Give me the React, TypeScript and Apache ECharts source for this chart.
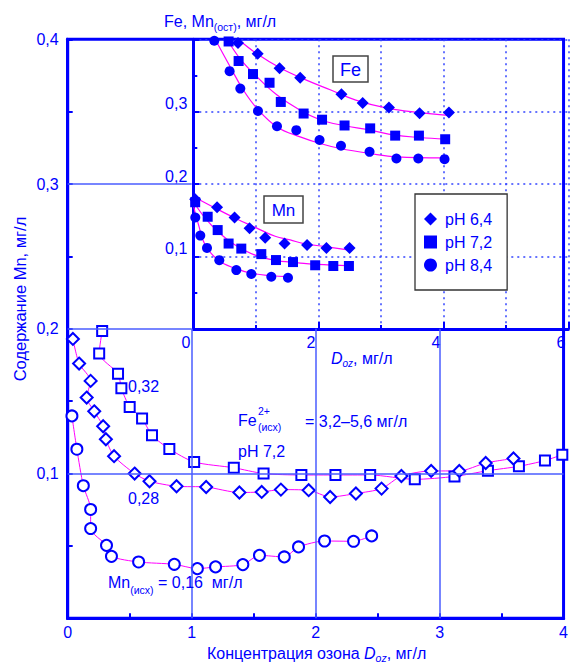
import React, { useEffect, useRef } from 'react';
import * as echarts from 'echarts';

const BLUE = '#0000ff';
const GRIDBLUE = '#4a5cff';
const MAGENTA = '#ff00ff';
const FONT = '"Liberation Sans", Arial, Helvetica, sans-serif';

// ---------- main chart: Mn content vs ozone dose (mg/l) ----------
// Fe(исх) series with initial Mn 0,32 (open squares)
const mainSquares032: number[][] = [
  [0.278, 0.1985], [0.254, 0.183], [0.406, 0.169], [0.433, 0.159], [0.5, 0.146],
  [0.6, 0.138], [0.68, 0.1265], [0.82, 0.117], [1.02, 0.108], [1.34, 0.104],
  [1.58, 0.1], [1.885, 0.099], [2.16, 0.099], [2.44, 0.099], [2.8, 0.096],
  [3.12, 0.098], [3.39, 0.102], [3.64, 0.105], [3.85, 0.109], [3.99, 0.113],
];
// initial Mn 0,28 (open diamonds)
const mainDiamonds028: number[][] = [
  [0.042, 0.193], [0.092, 0.176], [0.185, 0.164], [0.153, 0.1525], [0.214, 0.143],
  [0.286, 0.1327], [0.308, 0.1237], [0.374, 0.112], [0.54, 0.1], [0.66, 0.0947],
  [0.878, 0.0912], [1.117, 0.0907], [1.385, 0.0869], [1.565, 0.0873], [1.72, 0.0889],
  [1.944, 0.0885], [2.117, 0.0838], [2.325, 0.0862], [2.532, 0.0896], [2.692, 0.0983],
  [2.932, 0.1018], [3.159, 0.1018], [3.372, 0.1073], [3.596, 0.1104],
];
// initial Mn 0,16 (open circles)
const mainCircles016: number[][] = [
  [0.034, 0.1398], [0.074, 0.1168], [0.126, 0.0916], [0.185, 0.0752], [0.185, 0.062],
  [0.313, 0.0504], [0.353, 0.0428], [0.572, 0.0389], [0.86, 0.0373], [1.046, 0.0343],
  [1.193, 0.0355], [1.413, 0.0371], [1.547, 0.0435], [1.747, 0.0424], [1.862, 0.0493],
  [2.072, 0.0534], [2.306, 0.0532], [2.452, 0.0569],
];
const mainXTicks = [0, 1, 2, 3, 4];
const mainYTicks = [0.1, 0.2, 0.3, 0.4];
// solid grid lines of the main chart (outside the inset)
const mainHLines = [[0.1, 0, 4], [0.2, 0, 1], [0.3, 0, 1]];
const mainVLines = [[1, 0, 0.2], [2, 0, 0.2], [3, 0, 0.2]];

// ---------- inset: Fe, Mn(ост) vs D_oz ----------
const feMarkers64: number[][] = [
  [0.715, 0.395], [1.03, 0.38], [1.38, 0.36], [1.71, 0.347], [2.37, 0.324],
  [2.71, 0.312], [3.13, 0.306], [3.62, 0.298], [4.09, 0.299],
];
const feMarkers72: number[][] = [
  [0.565, 0.397], [0.725, 0.37], [0.955, 0.352], [1.22, 0.34], [1.4, 0.3135],
  [1.765, 0.2975], [2.06, 0.289], [2.42, 0.281], [2.83, 0.277], [3.23, 0.267],
  [3.61, 0.267], [4.03, 0.262],
];
const feMarkers84: number[][] = [
  [0.336, 0.398], [0.581, 0.356], [0.752, 0.332], [1.035, 0.301], [1.339, 0.28],
  [1.648, 0.2745], [2.02, 0.261], [2.363, 0.253], [2.82, 0.2446], [3.25, 0.2354],
  [3.6, 0.2354], [4.02, 0.2345],
];
const mnMarkers64: number[][] = [
  [0.03, 0.179], [0.38, 0.168], [0.66, 0.154], [0.9, 0.139], [1.15, 0.126],
  [1.46, 0.118], [1.82, 0.116], [2.13, 0.112], [2.5, 0.112],
];
const mnMarkers72: number[][] = [
  [0.03, 0.175], [0.23, 0.155], [0.39, 0.1366], [0.565, 0.118], [0.768, 0.111],
  [1.088, 0.1034], [1.323, 0.0952], [1.595, 0.0924], [1.95, 0.088], [2.24, 0.087],
  [2.49, 0.087],
];
const mnMarkers84: number[][] = [
  [0.032, 0.154], [0.112, 0.129], [0.219, 0.112], [0.416, 0.095], [0.688, 0.0814],
  [0.928, 0.0759], [1.248, 0.0722], [1.515, 0.0708],
];
// fitted curves
const feCurve64: number[][] = [
  [0.72, 0.4], [1.0, 0.381], [1.4, 0.36], [1.8, 0.344], [2.2, 0.33], [2.6, 0.316],
  [3.1, 0.305], [3.6, 0.299], [4.08, 0.295],
];
const feCurve72: number[][] = [
  [0.54, 0.4], [0.75, 0.373], [1.02, 0.348], [1.34, 0.323], [1.71, 0.302],
  [2.03, 0.289], [2.4, 0.281], [2.83, 0.2745], [3.23, 0.2676], [3.63, 0.2644], [4.03, 0.2621],
];
const feCurve84: number[][] = [
  [0.35, 0.4], [0.59, 0.362], [0.8, 0.33], [1.02, 0.3044], [1.34, 0.279],
  [1.71, 0.2652], [2.03, 0.2561], [2.35, 0.2492], [2.83, 0.2423], [3.26, 0.2377], [4.0, 0.2363],
];
const mnCurve64: number[][] = [
  [0.0, 0.183], [0.35, 0.167], [0.67, 0.153], [1.0, 0.14], [1.31, 0.128],
  [1.55, 0.123], [1.77, 0.118], [2.09, 0.114], [2.5, 0.109],
];
const mnCurve72: number[][] = [
  [0.0, 0.176], [0.19, 0.153], [0.4, 0.134], [0.67, 0.116], [0.99, 0.102],
  [1.36, 0.094], [1.55, 0.0925], [1.77, 0.0906], [1.98, 0.0892], [2.5, 0.0873],
];
const mnCurve84: number[][] = [
  [0.0, 0.171], [0.085, 0.1434], [0.19, 0.116], [0.4, 0.095], [0.67, 0.0837],
  [0.94, 0.0768], [1.26, 0.0735], [1.5, 0.0722],
];
const legendNames = ['pH 6,4', 'pH 7,2', 'pH 8,4'];
const legendIcons = ['diamond', 'rect', 'circle'];

const fmtComma = (v: number) => (Math.round(v * 10) / 10).toFixed(1).replace('.', ',');

function txt(x: number, y: number, text: string, extra: any = {}, rot = 0) {
  return {
    type: 'text',
    x,
    y,
    rotation: rot,
    silent: true,
    z: 10,
    style: {
      text,
      fill: BLUE,
      fontSize: 16,
      fontFamily: FONT,
      align: 'left',
      verticalAlign: 'middle',
      textAlign: 'left',
      textVerticalAlign: 'middle',
      ...extra,
    },
  };
}

const subRich = (pad: number, sub = 10.5) => ({
  a: { fontSize: 16, fontFamily: FONT, fill: BLUE, color: BLUE, verticalAlign: 'bottom', padding: [0, 0, pad, 0] },
  i: { fontSize: 16, fontFamily: FONT, fontStyle: 'italic', fill: BLUE, color: BLUE, verticalAlign: 'bottom', padding: [0, 0, pad, 0] },
  s: { fontSize: sub, fontFamily: FONT, fill: BLUE, color: BLUE, verticalAlign: 'bottom' },
  si: { fontSize: sub, fontFamily: FONT, fontStyle: 'italic', fill: BLUE, color: BLUE, verticalAlign: 'bottom' },
});

function buildOption(): any {
  const tickStyle = { color: BLUE, width: 2 };
  const dotted = { color: '#3344ff', width: 1.5, type: [2, 4] };

  const mainLine = (data: number[][], symbol: string, size: number | number[]) => ({
    type: 'line',
    xAxisIndex: 0,
    yAxisIndex: 0,
    data,
    smooth: 0.25,
    symbol,
    symbolSize: size,
    showSymbol: true,
    lineStyle: { color: MAGENTA, width: 1 },
    itemStyle: { color: BLUE, borderColor: BLUE, borderWidth: 1.2 },
    z: 3,
    silent: true,
  });
  const curve = (data: number[][]) => ({
    type: 'line',
    xAxisIndex: 1,
    yAxisIndex: 1,
    data,
    smooth: 0.4,
    symbol: 'none',
    showSymbol: false,
    lineStyle: { color: MAGENTA, width: 1.2 },
    z: 3,
    silent: true,
  });
  const marks = (name: string, data: number[][], symbol: string, size: number | number[]) => ({
    type: 'scatter',
    name,
    xAxisIndex: 1,
    yAxisIndex: 1,
    data,
    symbol,
    symbolSize: size,
    itemStyle: { color: BLUE, opacity: 1 },
    z: 4,
    silent: true,
  });

  return {
    animation: false,
    backgroundColor: '#fff',
    textStyle: { fontFamily: FONT },
    grid: [
      { left: 67.7, top: 39.3, width: 500.6, height: 579, show: true, borderColor: BLUE, borderWidth: 3, backgroundColor: 'transparent' },
      { left: 193.3, top: 39.3, width: 375, height: 289.7, show: false },
    ],
    xAxis: [
      {
        gridIndex: 0, type: 'value', min: 0, max: 4, interval: 1,
        axisLine: { show: true, onZero: false, lineStyle: { color: BLUE, width: 3 } },
        axisTick: { show: true, inside: true, length: 5, lineStyle: tickStyle },
        minorTick: { show: true, splitNumber: 2, length: 5, lineStyle: tickStyle },
        axisLabel: { color: BLUE, fontSize: 16, margin: 6, fontFamily: FONT,
          formatter: (v: number) => (mainXTicks.includes(v) ? String(v) : '') },
        splitLine: { show: false },
      },
      {
        gridIndex: 1, type: 'value', min: 0, max: 6, interval: 2,
        axisLine: { show: true, onZero: false, lineStyle: { color: BLUE, width: 3 } },
        axisTick: { show: true, inside: true, length: 7, lineStyle: tickStyle },
        minorTick: { show: true, splitNumber: 2, length: 4, lineStyle: tickStyle },
        axisLabel: { color: BLUE, fontSize: 16, margin: 5, align: 'right', padding: [0, 3, 0, 0], fontFamily: FONT },
        splitLine: { show: true, lineStyle: dotted },
        minorSplitLine: { show: true, lineStyle: dotted },
      },
    ],
    yAxis: [
      {
        gridIndex: 0, type: 'value', min: 0, max: 0.4, interval: 0.1,
        axisLine: { show: true, onZero: false, lineStyle: { color: BLUE, width: 3 } },
        axisTick: { show: true, inside: true, length: 5, lineStyle: tickStyle },
        minorTick: { show: true, splitNumber: 2, length: 5, lineStyle: tickStyle },
        axisLabel: { color: BLUE, fontSize: 16, margin: 9, fontFamily: FONT,
          formatter: (v: number) => (mainYTicks.some((t) => Math.abs(t - v) < 1e-6) ? fmtComma(v) : '') },
        splitLine: { show: false },
      },
      {
        gridIndex: 1, type: 'value', min: 0, max: 0.4, interval: 0.1,
        axisLine: { show: true, onZero: false, lineStyle: { color: BLUE, width: 3 } },
        axisTick: { show: true, inside: true, length: 6, lineStyle: tickStyle },
        minorTick: { show: true, splitNumber: 2, length: 4, lineStyle: tickStyle },
        axisLabel: { color: BLUE, fontSize: 16, margin: 6, verticalAlign: 'bottom', fontFamily: FONT,
          formatter: (v: number) => (v > 0.05 && v < 0.35 ? fmtComma(v) : '') },
        splitLine: { show: true, lineStyle: dotted },
      },
    ],
    legend: {
      show: true,
      orient: 'vertical',
      left: 415,
      top: 194,
      data: legendNames.map((n, i) => ({ name: n, icon: legendIcons[i] })),
      backgroundColor: '#fff',
      borderColor: '#333',
      borderWidth: 1.3,
      padding: [17, 15, 17, 9],
      itemGap: 7,
      itemWidth: 13,
      itemHeight: 13,
      selectedMode: false,
      textStyle: { color: BLUE, fontSize: 16, fontFamily: FONT, padding: [0, 0, 0, 3] },
    },
    series: [
      {
        type: 'line', xAxisIndex: 0, yAxisIndex: 0, data: [], z: 1, silent: true,
        markLine: {
          silent: true, symbol: 'none', label: { show: false },
          lineStyle: { color: GRIDBLUE, width: 1.5, type: 'solid' },
          data: [
            ...mainHLines.map(([y, x0, x1]) => [{ coord: [x0, y] }, { coord: [x1, y] }]),
            ...mainVLines.map(([x, y0, y1]) => [{ coord: [x, y0] }, { coord: [x, y1] }]),
          ],
        },
      },
      mainLine(mainSquares032, 'emptyRect', 10),
      mainLine(mainDiamonds028, 'emptyDiamond', 12),
      mainLine(mainCircles016, 'emptyCircle', 11),
      curve(feCurve64), curve(feCurve72), curve(feCurve84),
      curve(mnCurve64), curve(mnCurve72), curve(mnCurve84),
      marks('pH 6,4', feMarkers64, 'diamond', 12),
      marks('pH 7,2', feMarkers72, 'rect', 10),
      marks('pH 8,4', feMarkers84, 'circle', 10),
      marks('pH 6,4', mnMarkers64, 'diamond', 12),
      marks('pH 7,2', mnMarkers72, 'rect', 10),
      marks('pH 8,4', mnMarkers84, 'circle', 10),
    ],
    graphic: [
      txt(20, 299, 'Содержание Mn, мг/л', { align: 'center', textAlign: 'center', fontSize: 16.5 }, Math.PI / 2),
      txt(207, 654, '{a|Концентрация озона }{i|D}{si|oz}{a|, мг/л}', { rich: subRich(2, 10.5) }),
      txt(164, 23, '{a|Fe, Mn}{s|(ост)}{a|, мг/л}', { rich: subRich(3, 10.5) }),
      txt(331, 359, '{i|D}{si|oz}{a|, мг/л}', { rich: subRich(2, 10) }),
      txt(128, 386, '0,32'),
      txt(128, 498.5, '0,28'),
      txt(238, 420.5, 'Fe'),
      txt(258, 410.5, '2+', { fontSize: 10.5 }),
      txt(258, 426.5, '(исх)', { fontSize: 10.5 }),
      txt(305, 421, '= 3,2–5,6 мг/л'),
      txt(238, 451.5, 'pH 7,2'),
      txt(108, 585, '{a|Mn}{s|(исх)}{a| = 0,16  мг/л}', { rich: subRich(5, 10.5) }),
      { type: 'rect', shape: { x: 333, y: 56, width: 35, height: 26 }, style: { fill: '#fff', stroke: '#444', lineWidth: 1.5 }, z: 9, silent: true },
      txt(350.5, 69.5, 'Fe', { align: 'center', textAlign: 'center', fontSize: 18 }),
      { type: 'rect', shape: { x: 264, y: 196, width: 39, height: 27 }, style: { fill: '#fff', stroke: '#444', lineWidth: 1.5 }, z: 9, silent: true },
      txt(283.5, 210, 'Mn', { align: 'center', textAlign: 'center', fontSize: 17 }),
    ],
  };
}

export default function App() {
  const ref = useRef<HTMLDivElement>(null);
  useEffect(() => {
    if (!ref.current) return;
    const chart = echarts.init(ref.current, null, { renderer: 'svg' });
    chart.setOption(buildOption());
    return () => chart.dispose();
  }, []);
  return (
    <div
      ref={ref}
      style={{ position: 'fixed', left: 0, top: 0, width: 571, height: 664, background: '#fff' }}
    />
  );
}
